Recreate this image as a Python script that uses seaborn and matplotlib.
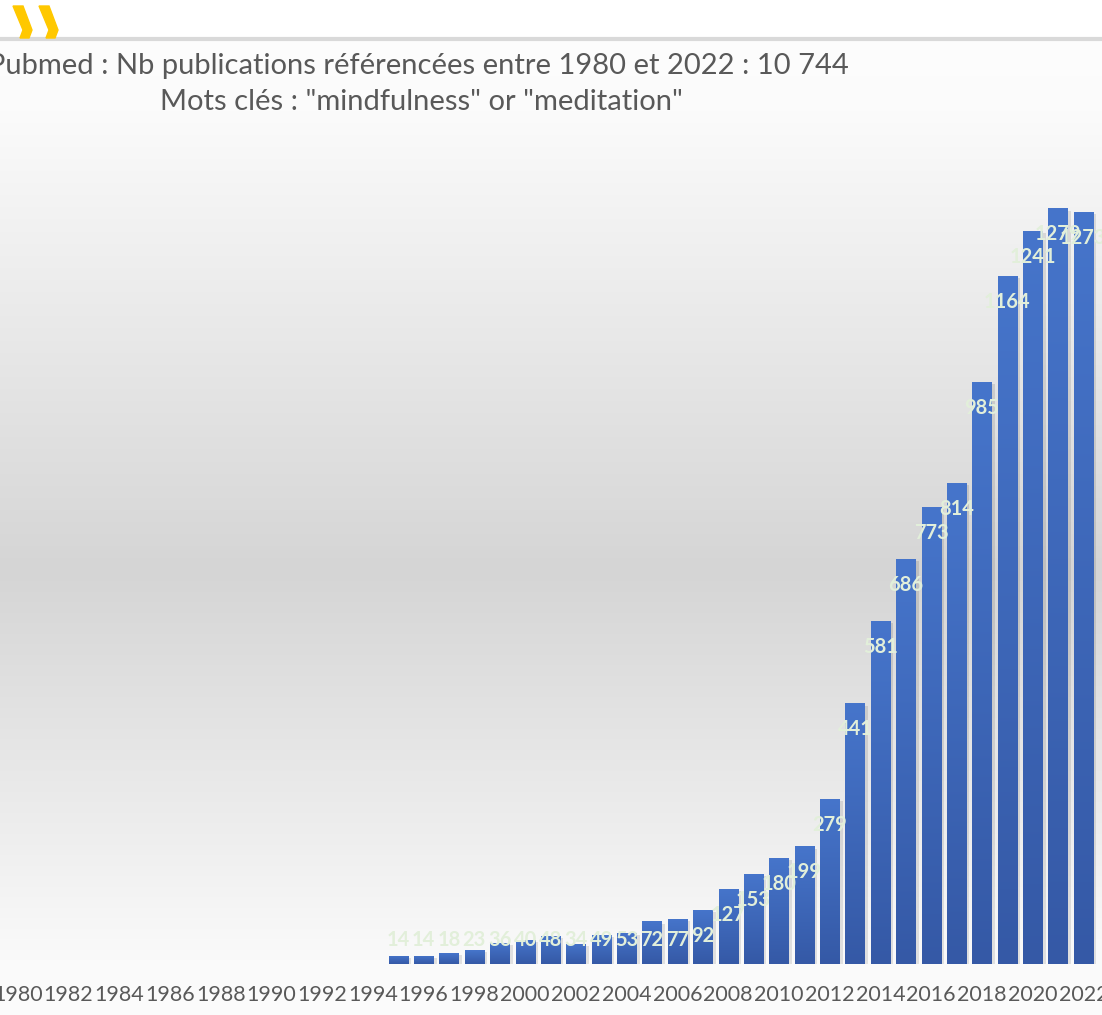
import numpy as np
import pandas as pd
import matplotlib
matplotlib.use("Agg")
import matplotlib.pyplot as plt
import matplotlib.patheffects as pe
from matplotlib.colors import LinearSegmentedColormap
from matplotlib.patches import Polygon
import seaborn as sns

# ---- data ----
years = [str(y) for y in range(1980, 2023)]
publications = [0, 0, 0, 0, 0, 0, 0, 0, 0, 0, 0, 0, 0, 0, 0,
                14, 14, 18, 23, 36, 40, 48, 34, 49, 53, 72, 77, 92, 127,
                153, 180, 199, 279, 441, 581, 686, 773, 814, 985, 1164,
                1241, 1279, 1273]
tick_years = years[::2]
title_line1 = "Pubmed : Nb publications référencées entre 1980 et 2022 : 10 744"
title_line2 = 'Mots clés : "mindfulness" or "meditation"'

df = pd.DataFrame({"year": years, "n": publications})

sns.set_theme(style="white")
plt.rcParams["font.family"] = ["Lato", "DejaVu Sans"]

W, H = 1102, 1015
fig = plt.figure(figsize=(W / 100, H / 100), dpi=100)

# ---- background gradient (figure level) ----
bg = fig.add_axes([0, 0, 1, 1], zorder=-10)
rows = np.arange(H)
lum = np.interp(rows, [0, 40, 110, 570, 960, 1015], [255, 253, 251, 213, 250, 252]) / 255.0
img = np.repeat(lum[:, None], 4, axis=1)
bg.imshow(np.dstack([img, img, img]), aspect="auto", extent=[0, W, H, 0])
bg.set_xlim(0, W)
bg.set_ylim(H, 0)
bg.axis("off")
# white header
bg.fill_between([0, W], 0, 38, color="white", zorder=1)
bg.plot([0, W], [39, 39], color="#d9d9d9", lw=3, zorder=2)
for dx in (0, 26):
    pts = [(13 + dx, 6), (23 + dx, 6), (32 + dx, 30), (29 + dx, 38),
           (20 + dx, 38), (23 + dx, 30)]
    bg.add_patch(Polygon(pts, closed=True, color="#FFC800", zorder=3))

# ---- main axes ----
ax = fig.add_axes([5 / W, 1 - 964 / H, (1096 - 5) / W, (964 - 137) / H])
ax.patch.set_alpha(0)
sns.barplot(data=df, x="year", y="n", color="#4472C4", width=0.75,
            saturation=1, ax=ax)
ax.set_ylim(0, 1400)
ax.set_xlim(-0.5, len(years) - 0.5)
ax.set_xticks(range(0, len(years), 2))
ax.set_xticklabels(tick_years, fontsize=15.5, color="#595959")
ax.tick_params(axis="x", length=0, pad=15)
ax.set_yticks([])
ax.set_xlabel("")
ax.set_ylabel("")
for s in ax.spines.values():
    s.set_visible(False)

cmap = LinearSegmentedColormap.from_list("bar", ["#3559A6", "#4675CB"])
grad = np.linspace(0, 1, 256)[:, None]
for p in ax.patches:
    p.set_linewidth(0)
    x0, y0, w, h = p.get_x(), p.get_y(), p.get_width(), p.get_height()
    if h > 0:
        p.set_path_effects([pe.SimplePatchShadow(offset=(2.5, -1.5),
                                                 shadow_rgbFace="#000000", alpha=0.10),
                            pe.Normal()])
        im = ax.imshow(grad, cmap=cmap, aspect="auto", origin="lower",
                       extent=[x0, x0 + w, y0, y0 + h], zorder=p.get_zorder() + 0.1)
        im.set_clip_path(p)
ax.set_xlim(-0.5, len(years) - 0.5)
ax.set_ylim(0, 1400)

for i, v in enumerate(publications):
    if v > 0:
        ax.text(i, max(v - 44, 40.5), f"{v}", ha="center", va="center",
                fontsize=14.5, fontweight="bold", color="#E2EFDA", zorder=10)

# ---- titles ----
fig.text(418 / W, 1 - 66 / H, title_line1, ha="center", va="center",
         fontsize=21, color="#595959")
fig.text(421 / W, 1 - 102 / H, title_line2, ha="center", va="center",
         fontsize=21, color="#595959")

fig.savefig("out.png", dpi=100)
